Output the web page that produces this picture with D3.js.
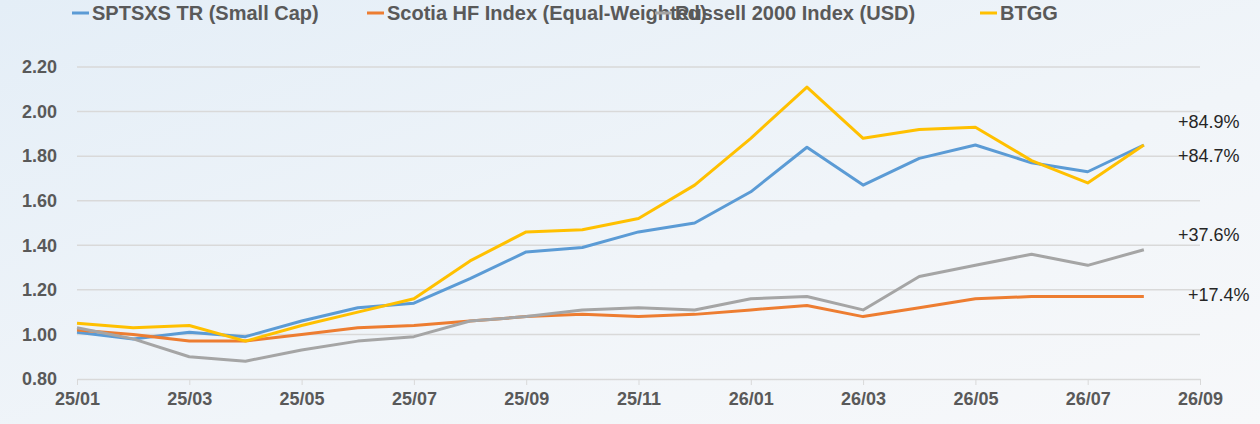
<!DOCTYPE html><html><head><meta charset="utf-8"><script src="https://cdn.jsdelivr.net/npm/d3@7"></script>
<style>body{margin:0}</style></head><body><svg id="c" width="1260" height="424"></svg><script>
const months=["25/01","25/02","25/03","25/04","25/05","25/06","25/07","25/08","25/09","25/10","25/11","25/12","26/01","26/02","26/03","26/04","26/05","26/06","26/07","26/08"];
const tickLabels=["25/01","25/03","25/05","25/07","25/09","25/11","26/01","26/03","26/05","26/07","26/09"];
const sptsxs=[1.01,0.98,1.01,0.99,1.06,1.12,1.14,1.25,1.37,1.39,1.46,1.50,1.64,1.84,1.67,1.79,1.85,1.77,1.73,1.85];
const scotia=[1.02,1.00,0.97,0.97,1.00,1.03,1.04,1.06,1.08,1.09,1.08,1.09,1.11,1.13,1.08,1.12,1.16,1.17,1.17,1.17];
const russell=[1.03,0.98,0.90,0.88,0.93,0.97,0.99,1.06,1.08,1.11,1.12,1.11,1.16,1.17,1.11,1.26,1.31,1.36,1.31,1.38];
const btgg=[1.05,1.03,1.04,0.97,1.04,1.10,1.16,1.33,1.46,1.47,1.52,1.67,1.88,2.11,1.88,1.92,1.93,1.78,1.68,1.85];
const names=["SPTSXS TR (Small Cap)","Scotia HF Index (Equal-Weighted)","Russell 2000 Index (USD)","BTGG"];
const endLabels=["+84.7%","+17.4%","+37.6%","+84.9%"];
const colors=["#5b9bd5","#ed7d31","#a5a5a5","#ffc000"];
const series=[sptsxs,scotia,russell,btgg];
const F="Liberation Sans Narrow, Arial Narrow, Liberation Sans, sans-serif";
const svg=d3.select("#c");
const defs=svg.append("defs");
const g=defs.append("linearGradient").attr("id","bg").attr("x1",0).attr("y1",0).attr("x2",1).attr("y2",1);
g.append("stop").attr("offset","0").attr("stop-color","#e4eef7");
g.append("stop").attr("offset","0.6").attr("stop-color","#f1f5f9");
g.append("stop").attr("offset","1").attr("stop-color","#f7f8fa");
svg.append("rect").attr("width",1260).attr("height",424).attr("fill","url(#bg)");
const x=d3.scaleLinear().domain([0,20]).range([77,1200]);
const y=d3.scaleLinear().domain([0.8,2.2]).range([379,67]);
const ticks=d3.range(0.8,2.21,0.2);
svg.append("g").selectAll("line").data(ticks.slice(1)).join("line")
 .attr("x1",77).attr("x2",1200).attr("y1",d=>y(d)).attr("y2",d=>y(d)).attr("stroke","#d9d9d9").attr("stroke-width",1.5);
const ya=svg.append("g").attr("transform","translate(60,0)").call(d3.axisLeft(y).tickValues(ticks).tickFormat(d3.format(".2f")).tickSize(0));
ya.select(".domain").remove();
ya.selectAll("text").attr("font-family",F).attr("font-size",18).attr("font-weight","bold").attr("fill","#595959").attr("dx",0);
const xa=svg.append("g").attr("transform","translate(0,379)").call(d3.axisBottom(x).tickValues(d3.range(0,21,2)).tickFormat((d,i)=>tickLabels[i]).tickSize(6).tickSizeOuter(0));
xa.select(".domain").attr("stroke","#d9d9d9").attr("stroke-width",1.5);
xa.selectAll("line").attr("stroke","#d9d9d9");
xa.selectAll("text").attr("font-family",F).attr("font-size",18).attr("font-weight","bold").attr("fill","#595959").attr("dy","0.95em");
const line=d3.line().x((d,i)=>x(i)).y(d=>y(d));
series.forEach((s,k)=>svg.append("path").datum(s).attr("d",line).attr("fill","none").attr("stroke",colors[k]).attr("stroke-width",3).attr("stroke-linejoin","round"));
const labY=[162,301,241,128],labX=[1178,1188,1178,1178];
endLabels.forEach((t,k)=>svg.append("text").attr("x",labX[k]).attr("y",labY[k]).attr("font-family",F).attr("font-size",18).attr("fill","#262626").text(t));
const lx=[72,367,655,980];
names.forEach((n,k)=>{const gg=svg.append("g").attr("transform",`translate(${lx[k]},13)`);
 gg.append("line").attr("x1",0).attr("x2",17).attr("stroke",colors[k]).attr("stroke-width",3);
 gg.append("text").attr("x",20).attr("y",7).attr("font-family",F).attr("font-size",20).attr("font-weight","bold").attr("fill","#595959").text(n);});
</script></body></html>
